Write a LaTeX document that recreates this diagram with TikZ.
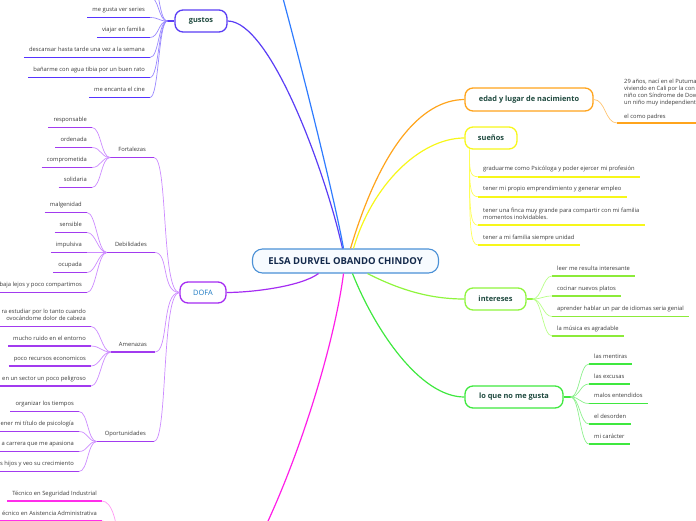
\documentclass[tikz,border=0pt]{standalone}
\usepackage{fontspec}
\setmainfont{Open Sans}
\usetikzlibrary{calc}
\definecolor{leafc}{HTML}{3A3A3A}
\definecolor{topc}{HTML}{1F4A3F}
\definecolor{centt}{HTML}{13294B}
\definecolor{centc}{HTML}{4A90D6}
\definecolor{centf}{HTML}{F7FBFF}
\definecolor{gustc}{HTML}{5A3DF5}
\definecolor{gustul}{HTML}{5533FF}
\definecolor{gustlc}{HTML}{9988FF}
\definecolor{bluec}{HTML}{2F7CFF}
\definecolor{dofac}{HTML}{A52CF2}
\definecolor{dofat}{HTML}{1A78C2}
\definecolor{dofaul}{HTML}{A23BEF}
\definecolor{dofalc}{HTML}{CC8BFF}
\definecolor{magc}{HTML}{FF1FE8}
\definecolor{tecul}{HTML}{FF2EEA}
\definecolor{teclc}{HTML}{FF99F3}
\definecolor{orc}{HTML}{FFA41C}
\definecolor{orlc}{HTML}{FFC36E}
\definecolor{yelc}{HTML}{F7F71A}
\definecolor{yellc}{HTML}{FFFF55}
\definecolor{lgc}{HTML}{8FF53D}
\definecolor{lgul}{HTML}{8CEB3A}
\definecolor{lglc}{HTML}{B8FF88}
\definecolor{grc}{HTML}{3FE83F}
\definecolor{grlc}{HTML}{8CF08C}
\begin{document}
\begin{tikzpicture}[x=1pt,y=-1pt,
  leaf/.style={font=\fontsize{5.8}{7}\selectfont, text=leafc, inner xsep=5pt, inner ysep=0pt, text depth=5.7pt},
  ulline/.style={append after command={(\tikzlastnode.south west) edge[draw=#1, line width=1.9pt] (\tikzlastnode.south east)}},
  leafL/.style={leaf, anchor=south east, align=right, ulline=#1},
  leafR/.style={leaf, anchor=south west, align=left, ulline=#1},
  branchL/.style={leaf, inner xsep=8pt, anchor=south east, ulline=#1},
  topic/.style={draw=#1, line width=1.3pt, rounded corners=8pt, fill=white, font=\fontsize{7.4}{9}\selectfont\bfseries, text=topc, inner sep=0pt, minimum height=22pt},
  conn/.style={draw=#1, line width=0.7pt},
  stub/.style={draw=#1, line width=1.6pt},
  mainc/.style={draw=#1, line width=1.2pt},
]
\useasboundingbox (0,0) rectangle (696,520);
\clip (0,0) rectangle (696,520);

% ---------- nodes ----------
\node[draw=centc, line width=1.1pt, rounded corners=10pt, fill=centf, minimum width=186pt, minimum height=24pt, inner sep=0pt, font=\fontsize{9.5}{11}\selectfont\bfseries, text=centt] (root) at (345.5,261) {ELSA DURVEL OBANDO CHINDOY};

\node[topic=gustc, minimum width=52pt] (gus) at (201,21) {gustos};
\node[topic=dofac, minimum width=46pt, minimum height=21pt, text=dofat, font=\fontsize{7.4}{9}\selectfont] (dofa) at (203,292.5) {DOFA};
\node[topic=orc, minimum width=128pt, minimum height=23pt] (edad) at (529,99.5) {edad y lugar de nacimiento};
\node[topic=yelc, minimum width=52pt] (sue) at (491,138) {sueños};
\node[topic=lgc, minimum width=61pt] (int) at (495.5,299) {intereses};
\node[topic=grc, minimum width=98pt] (loq) at (514,397) {lo que no me gusta};

% gustos leaves
\node[leafL=gustul] (g1) at (150,17.5) {me gusta ver series};
\node[leafL=gustul] (g2) at (150,37.5) {viajar en familia};
\node[leafL=gustul] (g3) at (150,57.5) {descansar hasta tarde una vez a la semana};
\node[leafL=gustul] (g4) at (150,77.5) {bañarme con agua tibia por un buen rato};
\node[leafL=gustul] (g5) at (150,97.5) {me encanta el cine};
\coordinate (gt1) at (150,-3);
\coordinate (gt2) at (150,-23);

% DOFA branches
\node[branchL=dofaul] (fort) at (154,157.5) {Fortalezas};
\node[branchL=dofaul] (deb) at (155,252.5) {Debilidades};
\node[branchL=dofaul] (ame) at (155,352) {Amenazas};
\node[branchL=dofaul] (opo) at (154,441.5) {Oportunidades};

\node[leafL=dofaul] (f1) at (92,127.5) {responsable};
\node[leafL=dofaul] (f2) at (92,147.5) {ordenada};
\node[leafL=dofaul] (f3) at (92,167.5) {comprometida};
\node[leafL=dofaul] (f4) at (92,187.5) {solidaria};

\node[leafL=dofaul] (d1) at (87,212.5) {malgenidad};
\node[leafL=dofaul] (d2) at (87,232.5) {sensible};
\node[leafL=dofaul] (d3) at (87,252.5) {impulsiva};
\node[leafL=dofaul] (d4) at (87,272.5) {ocupada};
\node[leafL=dofaul] (d5) at (87,292.5) {baja lejos y poco compartimos};

\node[leafL=dofaul] (a1) at (91,326.5) {ra estudiar por lo tanto cuando\\ovocándome dolor de cabeza};
\node[leafL=dofaul] (a2) at (91,346) {mucho ruido en el entorno};
\node[leafL=dofaul] (a3) at (91,366) {poco recursos economicos};
\node[leafL=dofaul] (a4) at (91,386) {en un sector un poco peligroso};

\node[leafL=dofaul] (o1) at (79,411.5) {organizar los tiempos};
\node[leafL=dofaul] (o2) at (79,431.5) {ener mi título de psicología};
\node[leafL=dofaul] (o3) at (79,451.5) {a carrera que me apasiona};
\node[leafL=dofaul] (o4) at (79,471.5) {s hijos y veo su crecimiento};

% bottom branch
\node[leafL=tecul] (t1) at (102,501) {Técnico en Seguridad Industrial};
\node[leafL=tecul] (t2) at (102,521) {écnico en Asistencia Administrativa};
\coordinate (tecpar) at (118,548);

% edad
\node[leaf, anchor=south west, align=left, inner xsep=7pt, text depth=4.3pt, ulline=orc] (edtxt) at (617,123) {29 años, nací en el Putuma\\viviendo en Cali por la con\\niño con Síndrome de Dow\\un niño muy independient\\[7pt]el como padres};

% sueños
\node[leafR=yelc] (s1) at (478,176.7) {graduarme como Psicóloga y poder ejercer mi profesión};
\node[leafR=yelc] (s2) at (478,196.7) {tener mi propio emprendimiento y generar empleo};
\node[leafR=yelc] (s3) at (478,225.3) {tener una finca muy grande para compartir con mi familia\\momentos inolvidables.};
\node[leafR=yelc] (s4) at (478,245) {tener a mi familia siempre unidad};

% intereses
\node[leafR=lgul] (i1) at (552,276) {leer me resulta interesante};
\node[leafR=lgul] (i2) at (552,296) {cocinar nuevos platos};
\node[leafR=lgul] (i3) at (552,316.5) {aprender hablar un par de idiomas seria genial};
\node[leafR=lgul] (i4) at (552,336) {la música es agradable};

% lo que no me gusta
\node[leafR=grc] (l1) at (589,364) {las mentiras};
\node[leafR=grc] (l2) at (589,384) {las excusas};
\node[leafR=grc] (l3) at (589,403.5) {malos entendidos};
\node[leafR=grc] (l4) at (589,424) {el desorden};
\node[leafR=grc] (l5) at (589,444) {mi carácter};

\coordinate (topblue) at (278,-20);
\coordinate (botmag) at (255,548);

% ---------- main connectors ----------
\draw[mainc=gustc] ($(root.north)+(-3,0)$) .. controls (325,170) and (270,21) .. (gus.east);
\draw[mainc=bluec] ($(root.north)+(-2,0)$) .. controls (335,200) and (300,60) .. (topblue);
\draw[mainc=orc] ($(root.north)+(5,0)$) .. controls (380,150) and (420,100) .. (edad.west);
\draw[mainc=yelc] ($(root.north)+(8,0)$) .. controls (372,185) and (420,138) .. (sue.west);
\draw[mainc=lgc] ($(root.south)+(22,0)$) .. controls (400,290) and (430,299) .. (int.west);
\draw[mainc=grc] ($(root.south)+(7,0)$) .. controls (375,330) and (420,397) .. (loq.west);
\draw[mainc=magc] ($(root.south)+(-2,0)$) .. controls (335,340) and (300,460) .. (botmag);
\draw[mainc=dofac] ($(root.south)+(-27,0)$) .. controls (300,287) and (250,292.5) .. (dofa.east);

% ---------- gustos ----------
\draw[stub=gustc] (gus.west) -- ++(-7,0);
\foreach \n in {g1,g2,g3,g4,g5}
  \draw[conn=gustlc] (gus.west) ++(-7,0) .. controls +(-9,0) and +(9,0) .. (\n.south east);
\foreach \n in {gt1,gt2}
  \draw[conn=gustlc] (gus.west) ++(-7,0) .. controls +(-9,0) and +(9,0) .. (\n);

% ---------- DOFA ----------
\foreach \n in {fort,deb,ame,opo}
  \draw[conn=dofalc] (dofa.west) .. controls +(-18,0) and +(14,0) .. (\n.south east);
\foreach \n in {f1,f2,f3,f4}
  \draw[conn=dofalc] (fort.south west) .. controls +(-9,0) and +(9,0) .. (\n.south east);
\foreach \n in {d1,d2,d3,d4,d5}
  \draw[conn=dofalc] (deb.south west) .. controls +(-9,0) and +(9,0) .. (\n.south east);
\foreach \n in {a1,a2,a3,a4}
  \draw[conn=dofalc] (ame.south west) .. controls +(-9,0) and +(9,0) .. (\n.south east);
\foreach \n in {o1,o2,o3,o4}
  \draw[conn=dofalc] (opo.south west) .. controls +(-9,0) and +(9,0) .. (\n.south east);

% bottom
\draw[conn=teclc] (tecpar) .. controls +(0,-25) and +(10,0) .. (t1.south east);
\draw[conn=teclc] (tecpar) .. controls +(0,-12) and +(10,0) .. (t2.south east);

% ---------- right side ----------
\draw[conn=orlc] (edad.east) .. controls +(12,0) and +(-12,0) .. (edtxt.south west);

\draw[conn=yellc] ($(sue.south west)+(5,0)$) .. controls +(0,22) and +(-8,0) .. (s1.south west);
\draw[conn=yellc] ($(sue.south west)+(5,0)$) .. controls +(0,38) and +(-8,0) .. (s2.south west);
\draw[conn=yellc] ($(sue.south west)+(5,0)$) .. controls +(0,61) and +(-8,0) .. (s3.south west);
\draw[conn=yellc] ($(sue.south west)+(5,0)$) .. controls +(0,77) and +(-8,0) .. (s4.south west);

\draw[stub=lgc] (int.east) -- ++(6,0);
\foreach \n in {i1,i2,i3,i4}
  \draw[conn=lglc] (int.east) ++(6,0) .. controls +(9,0) and +(-9,0) .. (\n.south west);

\draw[stub=grc] (loq.east) -- ++(7,0);
\foreach \n in {l1,l2,l3,l4,l5}
  \draw[conn=grlc] (loq.east) ++(7,0) .. controls +(9,0) and +(-9,0) .. (\n.south west);
\end{tikzpicture}
\end{document}
